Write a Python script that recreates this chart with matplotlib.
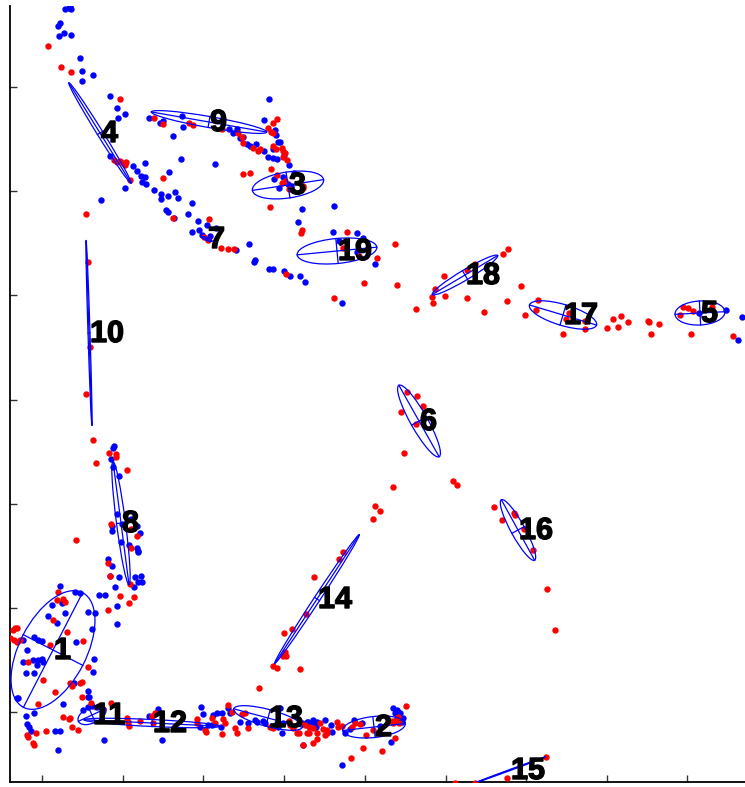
import numpy as np
import matplotlib
matplotlib.use("Agg")
import matplotlib.pyplot as plt
from matplotlib.patches import Ellipse
import matplotlib.patheffects as pe

# ---------------- data (pixel-like units, y axis inverted) ----------------
blue_pts = [
    (70,6),(69,8),(65,9),(71,9),(60,23),(58,26),(64,33),(59,36),(71,35),(80,58),(82,71),(93,75),(82,81),
    (110,96),(117,108),(125,114),(118,118),(110,156),(133,166),(137,171),(141,176),(145,177),(145,163),
    (142,182),(146,184),(125,188),(169,172),(181,159),(173,136),(154,190),(161,194),(168,196),(175,192),
    (178,198),(101,200),(161,199),
    (166,210),(168,212),(174,218),(188,214),(192,203),(198,221),(207,225),(216,228),(192,232),(199,230),
    (202,235),(210,236),(249,244),(255,260),(254,262),(269,269),(273,269),(284,271),(290,276),(300,276),
    (305,282),(342,303),(236,250),(215,164),
    (149,118),(160,123),(163,121),(182,116),(183,127),(229,129),(233,133),(237,129),(240,138),(247,144),
    (250,146),(256,144),(264,151),(269,99),(264,120),(275,130),(276,135),(278,142),(280,142),(273,149),
    (284,155),(268,157),(273,158),(277,159),(289,165),(243,137),
    (274,179),(288,184),(279,188),(283,177),(294,173),(291,186),(302,209),(298,222),(334,206),(333,232),
    (357,233),(339,241),(363,238),(357,252),(375,264),
    (699,313),(726,310),(742,317),(738,340),
    (114,446),(113,448),(111,459),(113,467),(119,476),(117,514),(112,526),(112,531),(122,524),(131,519),
    (137,526),(140,533),(121,542),(129,545),(137,548),(138,551),(138,552),(108,559),(112,566),(110,576),
    (119,577),(135,577),(141,576),(138,582),(142,582),(115,587),(134,587),(99,595),(105,595),(117,606),
    (117,624),
    (60,586),(75,592),(80,593),(52,605),(62,603),(65,613),(48,616),(57,623),(88,612),(95,613),(92,629),
    (23,640),(34,637),(38,640),(42,641),(27,650),(76,642),(23,662),(33,660),(38,660),(42,659),(43,662),
    (37,665),(26,673),(34,673),(94,659),(93,672),(17,698),(18,698),(63,704),(88,691),(88,697),(26,716),
    (27,724),(29,727),(31,731),(34,713),(55,731),(60,731),(58,750),(104,740),
    (83,710),(88,707),(92,706),(97,707),(100,706),(89,697),(74,683),
    (149,716),(158,709),(162,740),(201,707),(203,714),(213,715),(217,713),(222,713),(200,727),(208,725),
    (212,725),(221,727),(228,708),(230,713),(240,722),(248,723),
    (255,720),(257,722),(263,721),(265,723),(277,723),(278,727),(282,733),(302,723),(307,722),(312,722),
    (315,727),(317,722),(303,745),(280,708),(283,723),
    (308,722),(313,720),(316,727),(325,720),(331,725),(332,732),(345,733),(350,729),(354,720),(362,723),
    (393,708),(397,710),(398,712),(395,713),(400,713),(397,718),(398,722),(402,722),(403,718),(391,742),
    (342,765),(380,726),
]

red_pts = [
    (48,46),(61,67),(71,72),
    (120,99),(114,160),(117,162),(120,161),(123,163),(126,162),(125,165),(130,180),(163,178),(86,214),
    (173,218),(209,219),(204,237),(208,240),(221,248),(228,249),(234,249),(286,274),(334,298),(364,283),
    (397,285),(395,244),
    (154,118),(163,124),(189,123),(193,125),(222,129),(238,133),(242,137),(243,143),(253,148),(258,151),
    (260,149),(273,123),(277,119),(268,128),(271,132),(273,133),(273,146),(276,149),(282,148),(283,151),
    (285,153),(283,157),(287,160),(271,169),(243,174),(250,173),
    (277,175),(282,183),(285,181),(303,186),(303,188),(289,189),(270,207),(302,230),(301,233),(347,232),
    (343,248),(359,256),(377,258),
    (416,309),(432,297),(433,303),(435,289),(444,276),(445,296),(467,270),(475,264),(467,298),(484,312),
    (507,301),(503,254),(508,249),(521,286),(525,315),(538,300),(536,310),(563,334),(566,319),(585,321),
    (585,329),(569,313),(607,328),(613,319),(618,327),(621,316),(628,322),(648,321),(649,322),(659,324),
    (651,334),(683,307),(688,308),(693,311),(680,315),(712,307),(691,334),(733,336),
    (407,392),(417,396),(423,406),(401,412),(416,424),(404,453),(393,487),(453,481),(457,485),(380,511),
    (375,506),(373,519),(494,507),(502,520),(514,513),(515,515),(524,529),(533,550),(547,589),(555,630),
    (343,552),(339,559),(314,577),(306,614),(292,629),(284,633),(285,652),(283,656),(286,656),(273,666),
    (277,668),(300,669),(259,688),
    (88,262),(90,347),(86,394),(93,440),(96,463),(109,453),(116,454),(116,457),(127,470),(111,524),
    (131,529),(137,536),(131,548),(76,540),(108,563),(130,584),(120,596),(134,597),(110,576),(129,603),
    (108,610),
    (58,592),(57,600),(63,599),(65,602),(53,620),(67,632),(15,628),(17,628),(13,630),(10,638),(14,640),
    (17,642),(20,640),(50,645),(83,641),(28,662),(88,667),(82,682),(80,683),(43,680),(72,686),(55,692),
    (38,704),(91,703),
    (63,717),(69,719),(70,718),(72,727),(78,730),(36,733),(46,731),(27,735),(28,737),(33,743),(34,745),
    (70,683),(82,697),(111,703),(103,709),
    (127,718),(128,722),(129,726),(140,721),(152,716),(155,713),(153,723),(197,719),(197,723),(212,718),
    (215,723),(205,730),(206,732),(223,719),(225,723),(222,734),(228,705),(232,712),(242,714),(245,713),
    (235,728),(237,733),(248,728),
    (270,727),(273,728),(289,721),(290,725),(293,728),(297,733),(300,723),(305,725),(309,727),(313,728),
    (307,733),(317,739),
    (299,733),(309,733),(317,733),(320,723),(323,729),(327,730),(325,735),(327,733),(337,722),(338,727),
    (342,726),(352,727),(355,723),(360,724),(366,735),(373,730),(406,706),(398,717),(395,721),(392,721),
    (399,723),(393,723),(395,738),(303,745),(313,743),(363,748),(382,751),(351,758),
    (455,783),(475,783),(507,778),(546,757),
]

blue_x = [p[0] for p in blue_pts]
blue_y = [p[1] for p in blue_pts]
red_x = [p[0] for p in red_pts]
red_y = [p[1] for p in red_pts]

ell_labels = [str(i) for i in range(1, 20)]
ell_cx  = [53, 374, 288, 100, 700, 419, 207, 121, 209, 89, 92, 152, 268, 317, 510, 518, 563, 465, 337]
ell_cy  = [650, 727, 185, 133, 313, 421, 239, 523, 122, 333, 715, 723, 718, 599, 770, 530, 315, 275, 251]
ell_w   = [129, 63, 72, 118, 50, 82, 11, 124, 117, 185, 30, 136, 71, 154, 75, 69, 70, 76, 80]
ell_h   = [67, 21, 26, 6, 24, 17, 3, 9, 11, 2, 16, 7, 17, 6, 1, 14, 21, 10, 25]
ell_ang = [-62.7, -6.4, -8.6, 58.2, -3, 60.6, 23, 82.6, 9.9, 88.2, -25, 2.7, 15, -56.7, -20.2, 61.2,
           16.7, -30.8, -5.5]

x_ticks = [42, 123, 203, 284, 365, 446, 526, 607, 687]
y_ticks = [87, 191, 295, 400, 504, 608, 712]

# ---------------- figure ----------------
W, H = 745, 787
fig = plt.figure(figsize=(W / 100, H / 100), dpi=100)
ax = fig.add_axes([10 / W, 5 / H, 735 / W, 776 / H])
ax.set_xlim(10, 745)
ax.set_ylim(782, 6)

ax.plot(blue_x, blue_y, 'o', color='#0000ff', markersize=4.6, markeredgewidth=0, zorder=2)
ax.plot(red_x, red_y, 'o', color='#ff0000', markersize=4.6, markeredgewidth=0, zorder=3)

for lab, cx, cy, w, h, a in zip(ell_labels, ell_cx, ell_cy, ell_w, ell_h, ell_ang):
    ax.add_patch(Ellipse((cx, cy), w, h, angle=a, fill=False, edgecolor='#0000ff', lw=0.9, zorder=4))
    t = np.deg2rad(a)
    ux, uy = np.cos(t), np.sin(t)
    ax.plot([cx - w / 2 * ux, cx + w / 2 * ux], [cy - w / 2 * uy, cy + w / 2 * uy],
            color='#0000ff', lw=0.9, zorder=4)
    ax.plot([cx + h / 2 * uy, cx - h / 2 * uy], [cy - h / 2 * ux, cy + h / 2 * ux],
            color='#0000ff', lw=0.9, zorder=4)
    ax.text(cx + 1, cy + 1, lab, ha='left', va='center', fontsize=22, fontweight='bold',
            family='Liberation Sans', color='black', zorder=6,
            path_effects=[pe.withStroke(linewidth=1.0, foreground='black')])

for s in ('top', 'right'):
    ax.spines[s].set_visible(False)
for s in ('left', 'bottom'):
    ax.spines[s].set_linewidth(1.3)
    ax.spines[s].set_color('black')
ax.set_xticks(x_ticks)
ax.set_yticks(y_ticks)
ax.tick_params(direction='in', length=5, width=1, color='#333333',
               labelbottom=False, labelleft=False)
ax.set_facecolor('white')
fig.patch.set_facecolor('white')

fig.savefig('out.png', dpi=100)
